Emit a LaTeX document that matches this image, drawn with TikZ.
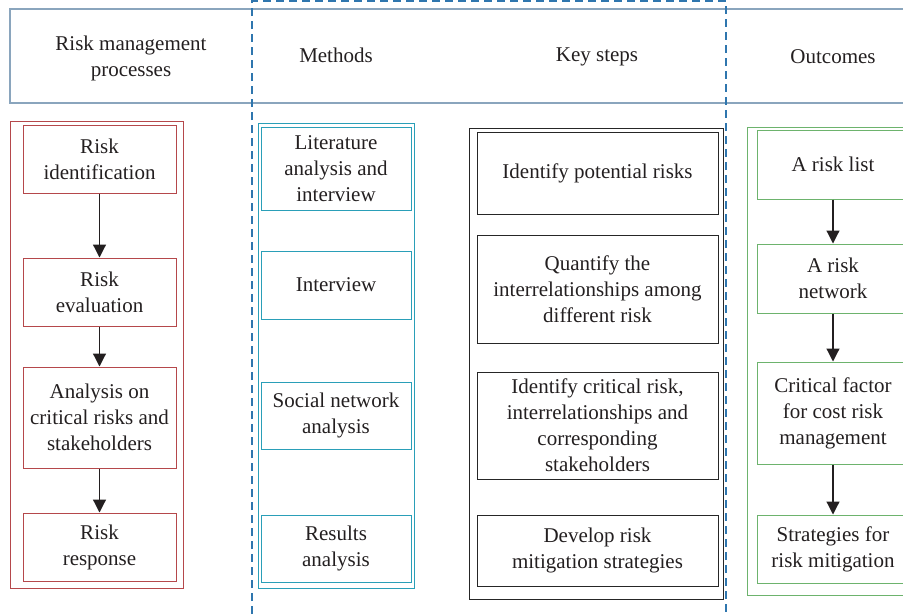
\documentclass[tikz,border=0pt]{standalone}
\usepackage{fontspec}
\setmainfont{Liberation Serif}
\usetikzlibrary{arrows.meta}
\definecolor{hdrblue}{HTML}{8AA5BD}
\definecolor{dashblue}{HTML}{2F76AE}
\definecolor{procred}{HTML}{B5484B}
\definecolor{methteal}{HTML}{2A9FB8}
\definecolor{outgreen}{HTML}{6DB36D}
\definecolor{txtgrey}{HTML}{231F20}

\begin{document}
\begin{tikzpicture}[x=1pt,y=-1pt,
  every node/.style={font=\fontsize{21}{26}\selectfont,text=txtgrey,align=center,inner sep=0pt},
  procbox/.style={draw=procred,line width=1pt,minimum width=153pt},
  methbox/.style={draw=methteal,line width=1pt,minimum width=150pt},
  stepbox/.style={draw=black!85,line width=1pt,minimum width=241pt},
  outbox/.style={draw=outgreen,line width=1pt,minimum width=152pt},
  flowarrow/.style={draw=txtgrey,line width=1.2pt,-{Triangle[width=13pt,length=13pt]}}]
\clip (0,0) rectangle (903,614);
% header band
\draw[hdrblue,line width=1.1pt] (903,9)--(10,9)--(10,103)--(903,103);
\draw[dashblue,line width=1.1pt,dash pattern=on 8pt off 5pt] (252,614)--(252,1)--(726,1)--(726,614);
\node (hproc) at (131,58) {Risk management\\processes};
\node (hmeth) at (336,55) {Methods};
\node (hstep) at (597,57) {Key steps};
\node (hout) at (833,57) {Outcomes};
% risk management processes
\draw[procred,line width=1pt] (10,121) rectangle (183,588);
\node[procbox,minimum height=68pt] (r1) at (99.5,159) {Risk\\identification};
\node[procbox,minimum height=68pt] (r2) at (99.5,292) {Risk\\evaluation};
\node[procbox,minimum height=101pt] (r3) at (99.5,417.5) {Analysis on\\critical risks and\\stakeholders};
\node[procbox,minimum height=68pt] (r4) at (99.5,547) {Risk\\response};
\draw[flowarrow] (r1)--(r2);
\draw[flowarrow] (r2)--(r3);
\draw[flowarrow] (r3)--(r4);
% methods
\draw[methteal,line width=1pt] (258,123) rectangle (414,588);
\node[methbox,minimum height=83pt] (m1) at (336,168.5) {Literature\\analysis and\\interview};
\node[methbox,minimum height=68pt] (m2) at (336,285) {Interview};
\node[methbox,minimum height=67pt] (m3) at (336,415.5) {Social network\\analysis};
\node[methbox,minimum height=67pt] (m4) at (336,548.5) {Results\\analysis};
% key steps
\draw[black!85,line width=1pt] (469,128) rectangle (723,599);
\node[stepbox,minimum height=82pt] (k1) at (597.5,173) {Identify potential risks};
\node[stepbox,minimum height=108pt] (k2) at (597.5,289) {Quantify the\\interrelationships among\\different risk};
\node[stepbox,minimum height=107pt] (k3) at (597.5,425.5) {Identify critical risk,\\interrelationships and\\corresponding\\stakeholders};
\node[stepbox,minimum height=71pt] (k4) at (597.5,550.5) {Develop risk\\mitigation strategies};
% outcomes
\draw[outgreen,line width=1pt] (747,127) rectangle (920,595);
\node[outbox,minimum height=69pt] (o1) at (833,164.5) {A risk list};
\node[outbox,minimum height=69pt] (o2) at (833,278.5) {A risk\\network};
\node[outbox,minimum height=102pt] (o3) at (833,413) {Critical factor\\for cost risk\\management};
\node[outbox,minimum height=68pt] (o4) at (833,549) {Strategies for\\risk mitigation};
\draw[flowarrow] (o1)--(o2);
\draw[flowarrow] (o2)--(o3);
\draw[flowarrow] (o3)--(o4);
\end{tikzpicture}
\end{document}
